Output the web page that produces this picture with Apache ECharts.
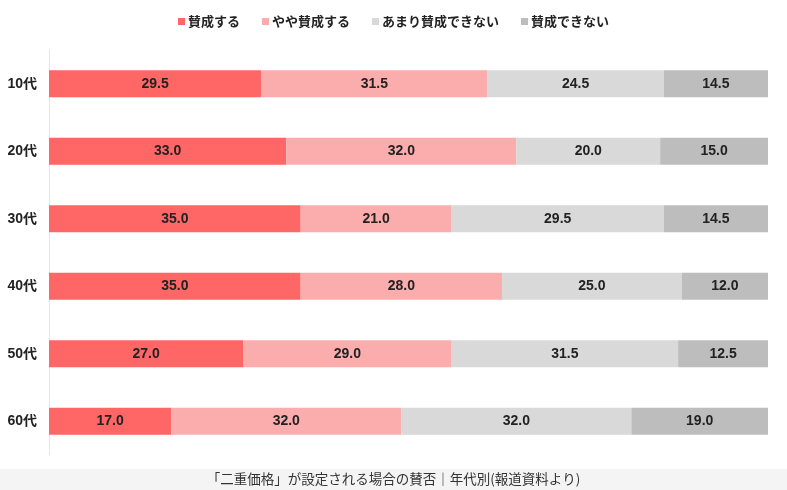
<!DOCTYPE html>
<html>
<head>
<meta charset="utf-8">
<script src="https://cdn.jsdelivr.net/npm/echarts@6/dist/echarts.min.js"></script>
<style>
  html, body { margin: 0; padding: 0; background: #fff; }
  #chart { width: 787px; height: 490px; }
</style>
</head>
<body>
<div id="chart"></div>
<script>
const ages = ['10代', '20代', '30代', '40代', '50代', '60代']
const seriesNames = ['賛成する', 'やや賛成する', 'あまり賛成できない', '賛成できない']
const agree = [29.5, 33.0, 35.0, 35.0, 27.0, 17.0]
const somewhatAgree = [31.5, 32.0, 21.0, 28.0, 29.0, 32.0]
const notReally = [24.5, 20.0, 29.5, 25.0, 31.5, 32.0]
const disagree = [14.5, 15.0, 14.5, 12.0, 12.5, 19.0]
const colors = ['#ff6666', '#fbacac', '#d9d9d9', '#bdbdbd']
const caption = '「二重価格」が設定される場合の賛否｜年代別(報道資料より)'

const font = '"Noto Sans CJK JP", "Noto Sans", sans-serif'
const numFont = '"Liberation Sans", "Noto Sans CJK JP", sans-serif'
const chart = echarts.init(document.getElementById('chart'))

const makeSeries = (name, data, color) => ({
    name,
    type: 'bar',
    stack: 'total',
    barWidth: 27,
    data,
    itemStyle: { color },
    label: {
        show: true,
        position: 'inside',
        formatter: p => p.value.toFixed(1),
        color: '#222',
        fontWeight: 'bold',
        fontSize: 14,
        fontFamily: numFont
    }
})

chart.setOption({
    animation: false,
    textStyle: { fontFamily: font },
    color: colors,
    graphic: [{
        type: 'rect',
        left: 0,
        bottom: 0,
        shape: { width: 787, height: 21 },
        style: { fill: '#f4f4f4' },
        z: -1
    }],
    title: {
        text: caption,
        left: 'center',
        bottom: -1,
        textStyle: { fontSize: 13.5, fontWeight: 'normal', color: '#333', fontFamily: font }
    },
    legend: {
        top: 10,
        left: 'center',
        itemWidth: 7,
        itemHeight: 7,
        itemGap: 22,
        icon: 'rect',
        textStyle: { fontSize: 13, fontWeight: 'bold', color: '#222', fontFamily: font, padding: [0, 0, 0, -2] },
        data: seriesNames
    },
    grid: { left: 49, right: 19, top: 50, bottom: 35 },
    xAxis: {
        type: 'value',
        min: 0,
        max: 100,
        show: false
    },
    yAxis: {
        type: 'category',
        inverse: true,
        data: ages,
        axisLine: { show: true, lineStyle: { color: '#e6e6e6', width: 1 } },
        axisTick: { show: false },
        axisLabel: { color: '#222', fontWeight: 'bold', fontSize: 14, margin: 12, fontFamily: numFont }
    },
    series: [
        makeSeries(seriesNames[0], agree, colors[0]),
        makeSeries(seriesNames[1], somewhatAgree, colors[1]),
        makeSeries(seriesNames[2], notReally, colors[2]),
        makeSeries(seriesNames[3], disagree, colors[3])
    ]
})
</script>
</body>
</html>
